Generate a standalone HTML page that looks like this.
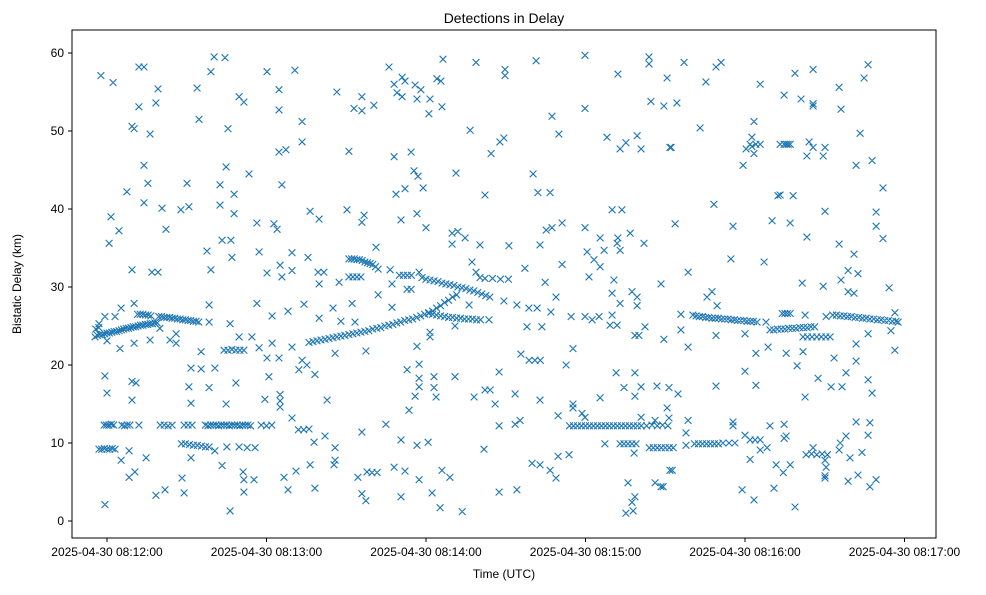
<!DOCTYPE html>
<html><head><meta charset="utf-8"><style>
html,body{margin:0;padding:0;background:#fff;}
svg text{font-family:"Liberation Sans","DejaVu Sans",sans-serif;fill:#000;}
</style></head><body>
<svg id="chart" width="986" height="590" viewBox="0 0 986 590" xmlns="http://www.w3.org/2000/svg">
<rect x="0" y="0" width="986" height="590" fill="#fff"/>
<text x="504" y="23" font-size="14" text-anchor="middle">Detections in Delay</text>
<text x="504" y="578" font-size="12" text-anchor="middle">Time (UTC)</text>
<text x="21" y="284" font-size="12" text-anchor="middle" transform="rotate(-90 21 284)">Bistatic Delay (km)</text>
<g id="marks"></g>
<g id="axes"></g>
<rect x="72" y="30" width="864" height="508" fill="none" stroke="#000" stroke-width="1"/>
</svg>
<script>
// time in seconds after 08:11:00, delay in km
const xTickValues = [60,120,180,240,300,360];
const xTickLabels = ["2025-04-30 08:12:00","2025-04-30 08:13:00","2025-04-30 08:14:00","2025-04-30 08:15:00","2025-04-30 08:16:00","2025-04-30 08:17:00"];
const yTickValues = [0,10,20,30,40,50,60];
const yTickLabels = ["0","10","20","30","40","50","60"];

const trackA = [[55.5,23.6],[56.4,23.8],[57.3,23.9],[58.2,23.9],[59.1,24.0],[60.0,24.1],[60.9,24.1],[61.8,24.2],[62.7,24.3],[63.6,24.3],[64.5,24.4],[65.4,24.5],[66.3,24.6],[67.2,24.7],[68.1,24.7],[69.0,24.8],[69.9,24.9],[70.8,24.9],[71.7,25.0],[72.6,25.1],[73.5,25.1],[74.4,25.2],[75.3,25.2],[76.2,25.3],[77.1,25.3],[78.0,25.4],[78.9,25.4],[55.8,24.6],[56.9,24.8]];
const trackB = [[71.5,26.5],[72.5,26.5],[73.5,26.5],[74.5,26.4],[75.5,26.4],[76.5,26.3],[79.5,26.2],[80.5,26.2],[81.5,26.1],[82.5,26.1],[83.5,26.1],[84.5,26.0],[85.5,26.0],[86.5,25.9],[87.5,25.9],[88.5,25.8],[89.5,25.8],[90.5,25.7],[91.5,25.7],[92.5,25.6],[93.5,25.6],[94.5,25.5]];
const trackC = [[58.9,12.3],[59.8,12.3],[60.7,12.3],[61.6,12.4],[62.5,12.3],[65.6,12.3],[66.6,12.2],[67.6,12.3],[68.6,12.3],[72,12.3],[80,12.3],[81.5,12.3],[83,12.2],[84.5,12.3],[89,12.3],[90.5,12.3],[92,12.3],[97,12.3],[98,12.2],[99,12.3],[100,12.3],[101,12.3],[102,12.2],[103,12.3],[104,12.3],[105,12.3],[106,12.2],[107,12.3],[108,12.3],[109,12.3],[110,12.2],[111,12.3],[112,12.3],[113,12.3],[114,12.2],[118,12.3],[120,12.2],[122,12.3],[132,11.7],[134,11.7],[136,11.8]];
const trackD = [[57,9.2],[58,9.2],[59,9.3],[60,9.2],[61,9.2],[62,9.3],[63,9.2],[88,9.9],[89.5,9.9],[91,9.8],[92.5,9.7],[94,9.7],[95.5,9.6],[97,9.5],[98.4,9.5],[104,21.9],[105.5,21.9],[107,22.0],[108.5,21.9],[110,21.9],[111.5,21.9]];
const trackE = [[151,33.6],[152,33.6],[153,33.6],[154,33.5],[155,33.5],[156,33.4],[157,33.2],[158,33.1],[159,33.0],[160,32.9],[161,32.6],[162,32.3],[151,31.3],[152.5,31.3],[154,31.3],[155.5,31.3],[170,31.5],[171.5,31.5],[173,31.5],[174.5,31.5],[202.2,31.1],[205,31.1],[208,31.0],[211,31.0]];
const trackF = [[136,22.9],[137.5,23.0],[139,23.1],[140.5,23.2],[142,23.3],[143.5,23.4],[145,23.5],[146.5,23.6],[148,23.7],[149.5,23.8],[151,23.9],[152.5,24.0],[154,24.1],[155.5,24.2],[157,24.3],[158.5,24.4],[160,24.6],[161.5,24.7],[163,24.8],[164.5,25.0],[166,25.1],[167.5,25.2],[169,25.4],[170.5,25.5],[172,25.7],[173.5,25.8],[175,25.9],[176.5,26.1],[178,26.3],[179.5,26.5],[181,26.7],[182.5,26.9],[184,27.3],[185.5,27.6],[187,28.0],[188.5,28.3],[190,28.7],[191.5,29.0]];
const trackG = [[178.5,31.2],[180,31.0],[181.5,30.9],[183,30.8],[184.5,30.7],[186,30.5],[187.5,30.4],[189,30.3],[190.5,30.2],[192,30.0],[193.5,29.9],[195,29.8],[196.5,29.6],[198,29.5],[199.5,29.3],[201,29.1],[202.5,28.9],[204,28.7],[181,26.6],[182.5,26.5],[184,26.4],[185.5,26.3],[187,26.2],[188.5,26.1],[190,26.1],[191.5,26.0],[193,26.0],[194.5,25.9],[196,25.9],[197.5,25.9],[199,25.8],[200.5,25.8]];
const trackH = [[234,12.2],[235.5,12.2],[237,12.2],[238.5,12.2],[240,12.2],[241.5,12.2],[243,12.2],[244.5,12.2],[246,12.2],[247.5,12.2],[249,12.2],[250.5,12.2],[252,12.2],[253.5,12.2],[255,12.2],[256.5,12.2],[258,12.2],[259.5,12.2],[261,12.2],[263,12.2],[265,12.3],[267,12.2],[269,12.3],[271,12.2],[253,9.9],[254.5,9.9],[256,9.9],[257.5,9.9],[259,9.9],[264,9.4],[265.5,9.4],[267,9.4],[268.5,9.4],[270,9.4],[271.5,9.4],[273,9.4],[281,9.9],[282.5,9.9],[284,9.9],[285.5,9.9],[287,9.9],[288.5,9.9],[290,9.9],[291.7,10.0],[294,10.0],[296.2,10.0]];
const trackI = [[280.4,26.4],[281.6,26.3],[282.8,26.2],[284,26.2],[285.2,26.1],[286.4,26.1],[287.6,26.0],[288.8,26.0],[290,26.0],[291.2,25.9],[292.4,25.9],[293.6,25.9],[294.8,25.8],[296,25.8],[297.2,25.7],[298.4,25.7],[299.6,25.7],[300.8,25.6],[302,25.6],[303.2,25.6],[304.5,25.5]];
const trackJ = [[309.4,24.5],[310.8,24.5],[312.2,24.6],[313.6,24.6],[315,24.6],[316.4,24.7],[317.8,24.7],[319.2,24.7],[320.6,24.8],[322,24.8],[323.4,24.8],[324.8,24.9],[326.2,24.9],[321.8,23.6],[323.5,23.6],[325.2,23.6],[327,23.6],[328.7,23.6],[330.4,23.6],[332,23.6],[314,26.6],[315,26.6],[316,26.6],[317,26.6],[323,8.5],[325,8.6],[327,8.5],[329,8.6],[331,8.5]];
const trackK = [[333,26.4],[334.4,26.4],[335.8,26.3],[337.2,26.3],[338.6,26.2],[340,26.2],[341.4,26.1],[342.8,26.1],[344.2,26.0],[345.6,26.0],[347,25.9],[348.4,25.9],[349.8,25.8],[351.2,25.8],[352.6,25.7],[354,25.7],[355.4,25.6],[356.8,25.6],[357.6,25.5],[301.9,48.3],[304.1,48.3],[305.7,48.3],[302.6,48.0],[313.2,48.3],[314.7,48.3],[316.2,48.3],[317,48.3],[315.5,48.3]];

const scatterLeft = [[57.7,57.1],[62.3,56.2],[72,58.2],[73.9,58.2],[79.2,55.4],[72,53.1],[78.4,53.6],[69.4,50.6],[70.2,50.3],[76.2,49.6],[93.9,55.5],[100.3,59.5],[104.4,59.4],[99.1,57.6],[109.7,54.4],[111.5,53.7],[94.6,51.5],[105.5,50.3],[120.2,57.6],[130.7,57.8],[124.7,55.3],[124.7,52.7],[133.4,51.2],[133.4,48.6],[124.7,47.3],[127.3,47.6],[146.5,55],[155.9,54.4],[152.9,52.9],[155.9,52.6],[151,47.4],[73.9,45.6],[75.4,43.3],[67.5,42.2],[73.9,40.8],[80.7,40.1],[90.1,43.3],[102.5,43.1],[107.8,41.9],[104.8,45.4],[113.4,44.5],[102.5,40.5],[107.8,39.4],[90.8,40.3],[87.8,39.9],[61.5,39],[64.5,37.2],[60.8,35.6],[82.2,37.4],[116.4,38.2],[122.8,38.1],[124,37.4],[125.8,43.1],[136.4,39.7],[139.8,38.7],[150.3,39.9],[156.7,39.2],[155.9,38.3],[97.6,34.6],[103.3,36],[106.6,36],[107,33.8],[117.2,34.5],[129.6,34.4],[135.6,33.8],[69.4,32.2],[76.9,31.9],[79.2,31.9],[99.1,32.2],[120.2,31.8],[125.1,32.8],[125.8,31.3],[129.6,32.1],[139.4,31.9],[141.6,31.9],[139.8,30.4],[147.3,30.6]];
const scatterLeftLow = [[59.2,26.2],[57,25.3],[63,26.2],[65.3,27.3],[70.2,27.9],[60,23.1],[64.9,22.1],[70.2,22.8],[76.2,23.2],[83.7,23.2],[86,24],[86,22.8],[79.9,24.7],[98.4,27.7],[98.4,25.5],[106.3,25.3],[109.7,23.6],[95.4,21.7],[114.5,23.6],[116.4,27.9],[122.1,26.3],[128.1,26.9],[134.1,27.8],[145,27.3],[152.2,27.9],[148,25.6],[153.3,25.5],[139.8,26],[122.1,22.8],[117.2,22.2],[120.2,20.9],[124.7,20.9],[129.6,22.3],[133.4,20.6],[132.2,19.4],[135.2,20],[138.2,18.8],[145.8,21.5],[157.4,21.8],[59.2,18.6],[60,16.4],[69.4,17.9],[70.9,17.7],[69.4,15.5],[91.6,19.6],[95.4,19.5],[100.6,19.6],[90.8,17.2],[98.4,17.1],[91.6,15.1],[108.5,17.7],[104.8,15],[120.9,18.5],[119.4,15.6],[125.1,16.2],[125.1,14.6],[125.1,15.4],[142.8,15.5],[129.6,13.2],[68.3,9],[65.3,7.8],[74.7,8.1],[91.6,8.1],[100.6,9],[103.3,7.1],[137.9,10.1],[142,10.9],[145.8,9.4],[145.8,7.8],[145.4,7.2],[155.9,11.4],[154.4,5.6],[157.8,6.3],[68.3,5.6],[70.5,6.3],[88.2,5.5],[111.2,6.3],[111.5,5.3],[115.3,5.3],[111.5,3.7],[126.6,5.6],[131.1,6.4],[136.4,7.2],[128.1,4],[138.2,4.2],[78.4,3.3],[81.8,4],[89,3.6],[155.9,3.5],[157.4,2.6],[59.2,2.1],[106.3,1.3],[105.1,9.5],[109.7,9.5],[112.7,9.4],[115.7,9.4]];
const scatterMid = [[166.1,58.2],[186.4,59.2],[198.8,58.8],[209.7,57.9],[209.7,57.1],[221.4,59],[239.8,59.7],[252.2,57.3],[263.9,59.5],[263.9,58.6],[270.7,56.8],[168,56],[171,56.9],[172.1,56.4],[169.1,54.9],[171,54.4],[175.9,55.9],[178.1,55.3],[176.6,54.1],[181.5,54.1],[184.1,56.7],[185.6,56.4],[186,53.1],[181.1,52.2],[160.4,53.3],[196.6,50.1],[227.4,51.9],[239.8,52.9],[264.6,53.8],[269.5,53.2],[230,49.6],[207.8,48.6],[209.3,49.1],[204.5,47.1],[248.1,49.2],[253,47.7],[255.2,48.5],[259.4,49.4],[260.9,47.7],[271.8,47.9],[168,46.7],[174.4,47.3],[175.5,44.9],[177,44.2],[191.3,44.6],[220.3,44.5],[168.7,41.9],[172.1,42.6],[178.9,42.7],[202.2,41.8],[222.1,42.1],[226.7,42.1],[250,39.9],[253.7,39.9],[176.6,39.4],[170.6,38.6],[180,37.6],[189.8,36.9],[192,37.1],[194.7,36.3],[189.8,35.5],[200.3,35.4],[211.2,35.3],[222.9,35.4],[225.2,37.3],[227.4,37.6],[231.2,38.2],[239.8,37.6],[245.5,36.3],[252.2,36.3],[251.9,35.6],[256.8,36.9],[262,35.6],[240.6,34.5],[243.2,33.5],[245.5,32.6],[247,34.7],[253,34.7],[161.2,35.1],[197.3,33.2],[198.8,31.9],[200.3,31.2],[217.2,32.4],[231.2,32.9],[224.8,30.6],[241.3,31.3],[250.7,30.9],[268.4,30.4],[166.5,32.2],[177.4,31.9],[167.2,30.4]];
const scatterMidLow = [[162,29],[167.2,27.4],[172.9,29.7],[174.4,29.7],[196.2,27.7],[203.7,25.8],[190.9,25],[181.5,24.2],[181.5,23.6],[209.3,28.2],[214.2,27.7],[218.7,27.3],[221.8,27.3],[227,26.8],[228.9,28.7],[218,24.9],[223.6,24.9],[234.6,26.2],[239.8,26.2],[242.5,25.8],[245.1,26.2],[250,26.4],[249.2,25.1],[251.9,25.1],[250,29.2],[253,27.9],[257.5,29.4],[259.4,28.7],[259.4,27.6],[262.4,24.9],[258.6,23.8],[260.1,23.8],[269.5,23.3],[176.6,22.4],[177.4,20.1],[172.9,19.4],[177.4,18.3],[177.4,17.2],[183,18.5],[183,17.1],[183.8,15.9],[175.9,16],[173.6,14.2],[190.9,18.5],[207.5,19.1],[215.7,21.4],[218.8,20.6],[221,20.6],[223,20.6],[232.7,20],[235.3,22.1],[198.1,15.9],[202.2,16.8],[204.1,16.8],[206,15],[213.5,16.3],[222.9,15.5],[164.9,12.4],[170.6,10.4],[176.6,9.7],[180.8,10.1],[201.8,9.2],[207.5,12.2],[213.5,12.4],[215.4,12.9],[229.7,13.5],[235.3,14.5],[235.3,15],[238.7,13.8],[239.8,13.3],[245.5,15.8],[251.5,19],[258.6,19],[254.5,17.1],[260.9,17.2],[258.6,16],[266.9,17.3],[271.4,17.1],[270.7,14.5],[271.4,13.2],[260.9,13.3],[266.2,12.9],[247.3,9.9],[258.3,8.7],[229.7,8.3],[233.8,8.5],[219.9,7.4],[222.9,7.2],[226.7,6.5],[228.9,5.5],[159.7,6.2],[161.6,6.2],[168,6.9],[172.1,6.4],[177.4,5.3],[186,6.5],[189,5.6],[170.6,3.1],[182.3,3.6],[185.3,1.7],[193.6,1.2],[207.5,3.7],[214.2,4],[256,4.9],[258.6,3.1],[257.5,2.4],[255.2,1],[257.9,1.3],[266.2,4.9],[268.4,4.4],[271.8,6.5]];
const scatterRight = [[277.1,58.8],[289.1,58.2],[291,58.8],[285.3,56.3],[305.7,56],[318.8,57.4],[325.6,57.9],[314.7,54.6],[321.1,54.1],[325.6,53.2],[325.6,53.5],[335.4,55.6],[336.1,52.8],[344.8,56.8],[346.3,58.5],[274.4,53.6],[283.1,50.4],[303.4,51.2],[272.2,47.9],[299.3,45.6],[300.4,47.7],[303.4,47.1],[302.6,49.2],[324.1,48.6],[325.6,47.9],[330.1,47.9],[323.3,46.8],[329.4,46.8],[343.3,49.7],[341.8,45.6],[347.8,46.2],[351.9,42.7],[288.3,40.6],[312.4,41.7],[313.2,41.8],[318.1,41.7],[330.1,39.7],[349.3,39.6],[349.3,37.8],[351.9,36.2],[273.7,38.1],[295.5,37.8],[310.2,38.5],[317,38.2],[323.3,36.4],[335.4,35.5],[341,34.2],[338.8,32.1],[342.5,31.7],[336.1,30.9],[294.7,33.6],[307.2,33.2],[278.6,31.9],[321.5,30.5],[329.4,30.1],[354.2,29.9]];
const scatterRightLow = [[275.9,26.5],[275.9,24.5],[278.6,22.3],[285.7,28.7],[287.6,29.4],[289.5,27.6],[289.1,23.8],[300,24],[304.1,21.5],[307.9,25.5],[308.7,22.3],[315.5,21.5],[322.6,26.4],[321.8,21.7],[319.6,19.9],[330.5,26.2],[333.5,20.9],[341.8,22.7],[341.8,20.5],[346.3,24],[354.9,24.4],[356.4,21.9],[356.4,26.7],[338.8,29.4],[341,29.2],[300,19.2],[304.1,17.4],[289.1,17.3],[327.5,18.3],[332.4,17.2],[336.5,17.2],[338,19],[346.3,18.1],[347.8,16.4],[322.6,15.9],[274.8,16.3],[278.6,12.9],[295.5,12.7],[295.5,12.2],[309.4,12.2],[314.7,12.4],[315.5,10.9],[314.7,10.6],[341.8,12.7],[347,12.6],[346.3,11],[338,10.9],[335.8,10],[335.4,9.1],[344,8.8],[339.5,8.1],[325.6,9.4],[330.1,7.8],[330.5,6.9],[330.1,5.5],[330.1,5.8],[338.8,5.1],[342.5,5.9],[347,4.4],[349.3,5.3],[272.6,6.5],[269.2,4.4],[298.9,4],[303.4,2.7],[310.9,4.2],[318.8,1.8],[277.8,11.3],[277.8,9.7],[300,11],[305.7,9.1],[308.3,9.4],[301.9,7.9],[311.7,7.2],[314.4,6.2],[317,7.2],[301.9,10.4],[303.8,10.4],[305.7,10.4]];

const X0 = 107, PX_PER_SEC = 159.5/60, Y0 = 521, PX_PER_KM = 7.8;
function xScale(t){ return X0 + (t-60)*PX_PER_SEC; }
function yScale(v){ return Y0 - v*PX_PER_KM; }

const NS = "http://www.w3.org/2000/svg";
const marks = document.getElementById("marks");
const axes = document.getElementById("axes");
const allSeries = [trackA,trackB,trackC,trackD,trackE,trackF,trackG,trackH,trackI,trackJ,trackK,scatterLeft,scatterLeftLow,scatterMid,scatterMidLow,scatterRight,scatterRightLow];
let d = "";
allSeries.forEach(s => s.forEach(p => {
  const cx = xScale(p[0]), cy = yScale(p[1]), r = 3.4;
  d += "M"+(cx-r).toFixed(1)+" "+(cy-r).toFixed(1)+"L"+(cx+r).toFixed(1)+" "+(cy+r).toFixed(1)+
       "M"+(cx-r).toFixed(1)+" "+(cy+r).toFixed(1)+"L"+(cx+r).toFixed(1)+" "+(cy-r).toFixed(1);
}));
const path = document.createElementNS(NS,"path");


path.setAttribute("d", d);
path.setAttribute("stroke", "#1f77b4");
path.setAttribute("stroke-width", "1.1");
path.setAttribute("fill", "none");
marks.appendChild(path);

xTickValues.forEach((v,i) => {
  const x = xScale(v);
  const ln = document.createElementNS(NS,"line");
  
  
  ln.setAttribute("x1", x); ln.setAttribute("x2", x);
  ln.setAttribute("y1", 538); ln.setAttribute("y2", 542);
  ln.setAttribute("stroke", "#000");
  axes.appendChild(ln);
  const tx = document.createElementNS(NS,"text");
  
  
  tx.setAttribute("x", x); tx.setAttribute("y", 556);
  tx.setAttribute("font-size", "12"); tx.setAttribute("text-anchor", "middle");
  tx.textContent = xTickLabels[i];
  axes.appendChild(tx);
});
yTickValues.forEach((v,i) => {
  const y = yScale(v);
  const ln = document.createElementNS(NS,"line");
  
  
  ln.setAttribute("x1", 68); ln.setAttribute("x2", 72);
  ln.setAttribute("y1", y); ln.setAttribute("y2", y);
  ln.setAttribute("stroke", "#000");
  axes.appendChild(ln);
  const tx = document.createElementNS(NS,"text");
  
  
  tx.setAttribute("x", 64); tx.setAttribute("y", y+4);
  tx.setAttribute("font-size", "12"); tx.setAttribute("text-anchor", "end");
  tx.textContent = yTickLabels[i];
  axes.appendChild(tx);
});
</script>
</body></html>
